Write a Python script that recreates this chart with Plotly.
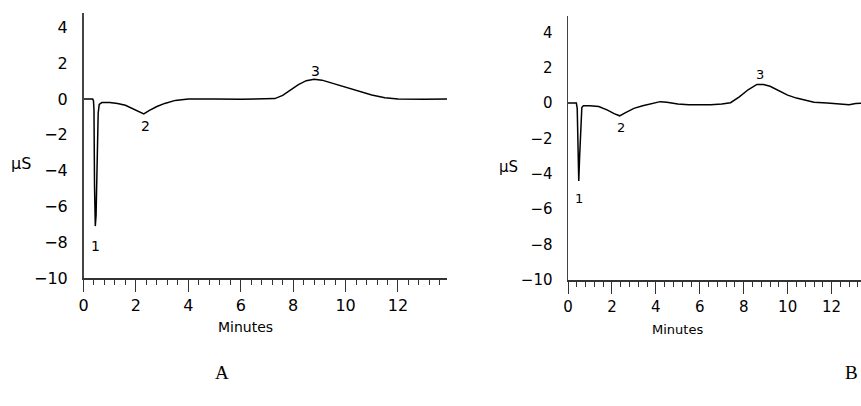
import plotly.graph_objects as go

W, H = 861, 406

# Panel A chromatogram (minutes, µS)
time_a = [0.0, 0.35, 0.38, 0.40, 0.42, 0.45, 0.48, 0.52, 0.56, 0.60, 0.70, 1.0, 1.3, 1.6, 1.9, 2.1, 2.3,
          2.5, 2.8, 3.1, 3.5, 4.0, 4.5, 5.0, 6.0, 7.0, 7.3, 7.6, 7.9, 8.2, 8.5, 8.8, 9.1, 9.5, 10.0,
          10.5, 11.0, 11.5, 12.0, 13.0, 13.9]
signal_a = [0.0, 0.0, -0.1, -0.6, -4.8, -7.1, -6.5, -3.2, -0.8, -0.3, -0.2, -0.2, -0.25, -0.35, -0.55,
            -0.72, -0.83, -0.65, -0.42, -0.25, -0.08, 0.0, 0.02, 0.0, -0.02, 0.0, 0.02, 0.2, 0.5, 0.8,
            1.02, 1.1, 1.05, 0.88, 0.68, 0.45, 0.22, 0.07, 0.0, -0.02, 0.0]

# Panel B chromatogram (minutes, µS)
time_b = [0.0, 0.38, 0.42, 0.45, 0.49, 0.53, 0.58, 0.63, 0.7, 1.0, 1.4, 1.8, 2.1, 2.35, 2.6, 3.0, 3.4,
          3.8, 4.2, 4.5, 5.0, 5.5, 6.0, 6.5, 7.0, 7.4, 7.8, 8.2, 8.6, 8.9, 9.2, 9.6, 10.0, 10.4, 10.8,
          11.2, 11.8, 12.5, 12.8, 13.1, 13.4]
signal_b = [0.0, 0.0, -0.3, -2.0, -4.4, -3.0, -1.0, -0.25, -0.15, -0.15, -0.2, -0.4, -0.6, -0.72, -0.55,
            -0.3, -0.15, -0.05, 0.08, 0.05, -0.05, -0.1, -0.1, -0.1, -0.05, 0.02, 0.35, 0.75, 1.05,
            1.05, 0.95, 0.7, 0.45, 0.28, 0.15, 0.05, 0.0, -0.05, -0.1, -0.02, 0.0]

# Peak labels
peak_names = ["1", "2", "3"]
peak_a_x = [0.47, 2.35, 8.87]
peak_a_y = [-8.2, -1.5, 1.55]
peak_b_x = [0.5, 2.41, 8.74]
peak_b_y = [-5.4, -1.4, 1.6]

y_ticks = [4, 2, 0, -2, -4, -6, -8, -10]
x_ticks = [0, 2, 4, 6, 8, 10, 12]

fig = go.Figure()
fig.add_trace(go.Scatter(x=time_a, y=signal_a, mode="lines", line=dict(color="black", width=1.5),
                         xaxis="x", yaxis="y", showlegend=False, hoverinfo="skip"))
fig.add_trace(go.Scatter(x=time_b, y=signal_b, mode="lines", line=dict(color="black", width=1.5),
                         xaxis="x2", yaxis="y2", showlegend=False, hoverinfo="skip"))

font_main = "DejaVu Sans, Verdana, sans-serif"
font_serif = "Liberation Serif, Times New Roman, serif"

def xaxis_cfg(dom, rng, size, anchor):
    return dict(domain=dom, range=rng, anchor=anchor, automargin=False,
                showline=True, linecolor="#333", linewidth=1.5,
                showgrid=False, zeroline=False, tickmode="array", tickvals=x_ticks,
                ticks="outside", ticklen=12, tickwidth=1, tickcolor="#333",
                minor=dict(dtick=0.4, tick0=0, ticks="outside", ticklen=5, tickwidth=1, tickcolor="#333"),
                tickfont=dict(family=font_main, size=size, color="black"), fixedrange=True)

def yaxis_cfg(dom, rng, anchor, size):
    return dict(domain=dom, range=rng, anchor=anchor, automargin=False,
                showline=True, linecolor="#444", linewidth=1.5,
                showgrid=False, zeroline=False, tickmode="array", tickvals=y_ticks,
                ticks="", ticklabelstandoff=11,
                tickfont=dict(family=font_main, size=size, color="black"), fixedrange=True)

fig.update_layout(
    width=W, height=H, margin=dict(l=0, r=0, t=0, b=0, autoexpand=False),
    paper_bgcolor="white", plot_bgcolor="white", hovermode=False,
    xaxis=xaxis_cfg([83.5 / W, 447 / W], [0, 13.87], 16, "y"),
    yaxis=yaxis_cfg([1 - 278 / H, 1 - 13 / H], [-10, 4.8], "x", 16),
    xaxis2=xaxis_cfg([568 / W, 1.0], [0, 13.34], 15, "y2"),
    yaxis2=yaxis_cfg([1 - 280 / H, 1 - 16 / H], [-10, 4.92], "x2", 15),
)

for n, px, py in zip(peak_names, peak_a_x, peak_a_y):
    fig.add_annotation(x=px, y=py, xref="x", yref="y", text=n, showarrow=False,
                       xanchor="center", yanchor="middle",
                       font=dict(family=font_main, size=14, color="black"))
for n, px, py in zip(peak_names, peak_b_x, peak_b_y):
    fig.add_annotation(x=px, y=py, xref="x2", yref="y2", text=n, showarrow=False,
                       xanchor="center", yanchor="middle",
                       font=dict(family=font_main, size=13, color="black"))

def paper_text(x, y, text, family, size):
    fig.add_annotation(x=x / W, y=1 - y / H, xref="paper", yref="paper", text=text, showarrow=False,
                       xanchor="center", yanchor="middle",
                       font=dict(family=family, size=size, color="black"))

# Axis titles and panel letters
paper_text(21, 163, "µS", font_main, 16)
paper_text(508, 167, "µS", font_main, 15)
paper_text(245, 327, "Minutes", font_main, 14)
paper_text(677, 329, "Minutes", font_main, 13)
paper_text(222, 372, "A", font_serif, 19)
paper_text(851, 372, "B", font_serif, 19)

fig.write_html("out.html", config={"displayModeBar": False, "staticPlot": True},
               post_script="document.body.style.margin='0';document.body.style.overflow='hidden';")
